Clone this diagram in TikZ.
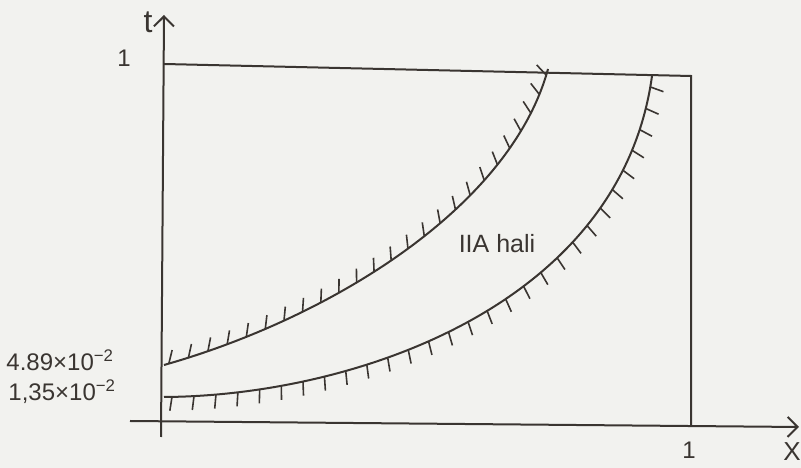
\documentclass[tikz,border=0pt]{standalone}
\usepackage{xcolor}
\usepackage{fontspec}
\setmainfont{Liberation Sans}
\usetikzlibrary{arrows.meta,decorations.markings}

\definecolor{ink}{HTML}{3A3531}
\definecolor{paper}{HTML}{F2F2EF}

\begin{document}
\begin{tikzpicture}[x=1pt,y=1pt,line width=2pt,draw=ink,text=ink,
    axis/.style={-{Straight Barb[length=10pt,width=20pt]}},
    lbl/.style={font=\fontsize{24}{28}\selectfont},
    hatchup/.style={postaction={decorate,decoration={markings,
        mark=between positions 5pt and -2pt step 20.5pt with {\draw[line width=1.6pt] (0,0) -- (60:14pt);}}}},
    hatchdown/.style={postaction={decorate,decoration={markings,
        mark=between positions 8pt and -2pt step 22pt with {\draw[line width=1.6pt] (0,0) -- (-100:14pt);}}}}]

    \fill[paper] (0,0) rectangle (801,468);
    \useasboundingbox (0,0) rectangle (801,468);

    % frame of the region
    \coordinate (tStart) at (161,31);
    \coordinate (tEnd) at (164,453);
    \coordinate (xStart) at (130,47);
    \coordinate (xEnd) at (799,41);
    \coordinate (topLeft) at (164,404);
    \coordinate (topRight) at (691,392);
    \coordinate (botRight) at (691,42);

    \draw[axis] (tStart) -- (tEnd);
    \draw[axis] (xStart) -- (xEnd);
    \draw (topLeft) -- (topRight) -- (botRight);

    % the two boundaries
    \coordinate (upStart) at (164,103);
    \coordinate (upEnd) at (548,399);
    \coordinate (lowStart) at (164,71);
    \coordinate (lowEnd) at (652,392);
    \draw[hatchup] (upStart) .. controls (330,150) and (510,260) .. (upEnd);
    \draw[hatchdown] (lowStart) .. controls (350,72) and (620,160) .. (lowEnd);

    \node[lbl, font=\fontsize{32}{36}\selectfont] (tLabel) at (148,446) {t};
    \node[lbl] (tOne) at (124,410) {1};
    \node[lbl] (xOne) at (689,18) {1};
    \node[lbl, font=\fontsize{26}{30}\selectfont] (xLabel) at (792,16) {X};
    \node[lbl, font=\fontsize{25}{30}\selectfont] (region) at (497,224) {IIA hali};
    \node[lbl] (upperVal) at (60,108) {4.89×10\textsuperscript{−2}};
    \node[lbl] (lowerVal) at (62,76) {1,35×10\textsuperscript{−2}};

\end{tikzpicture}
\end{document}
